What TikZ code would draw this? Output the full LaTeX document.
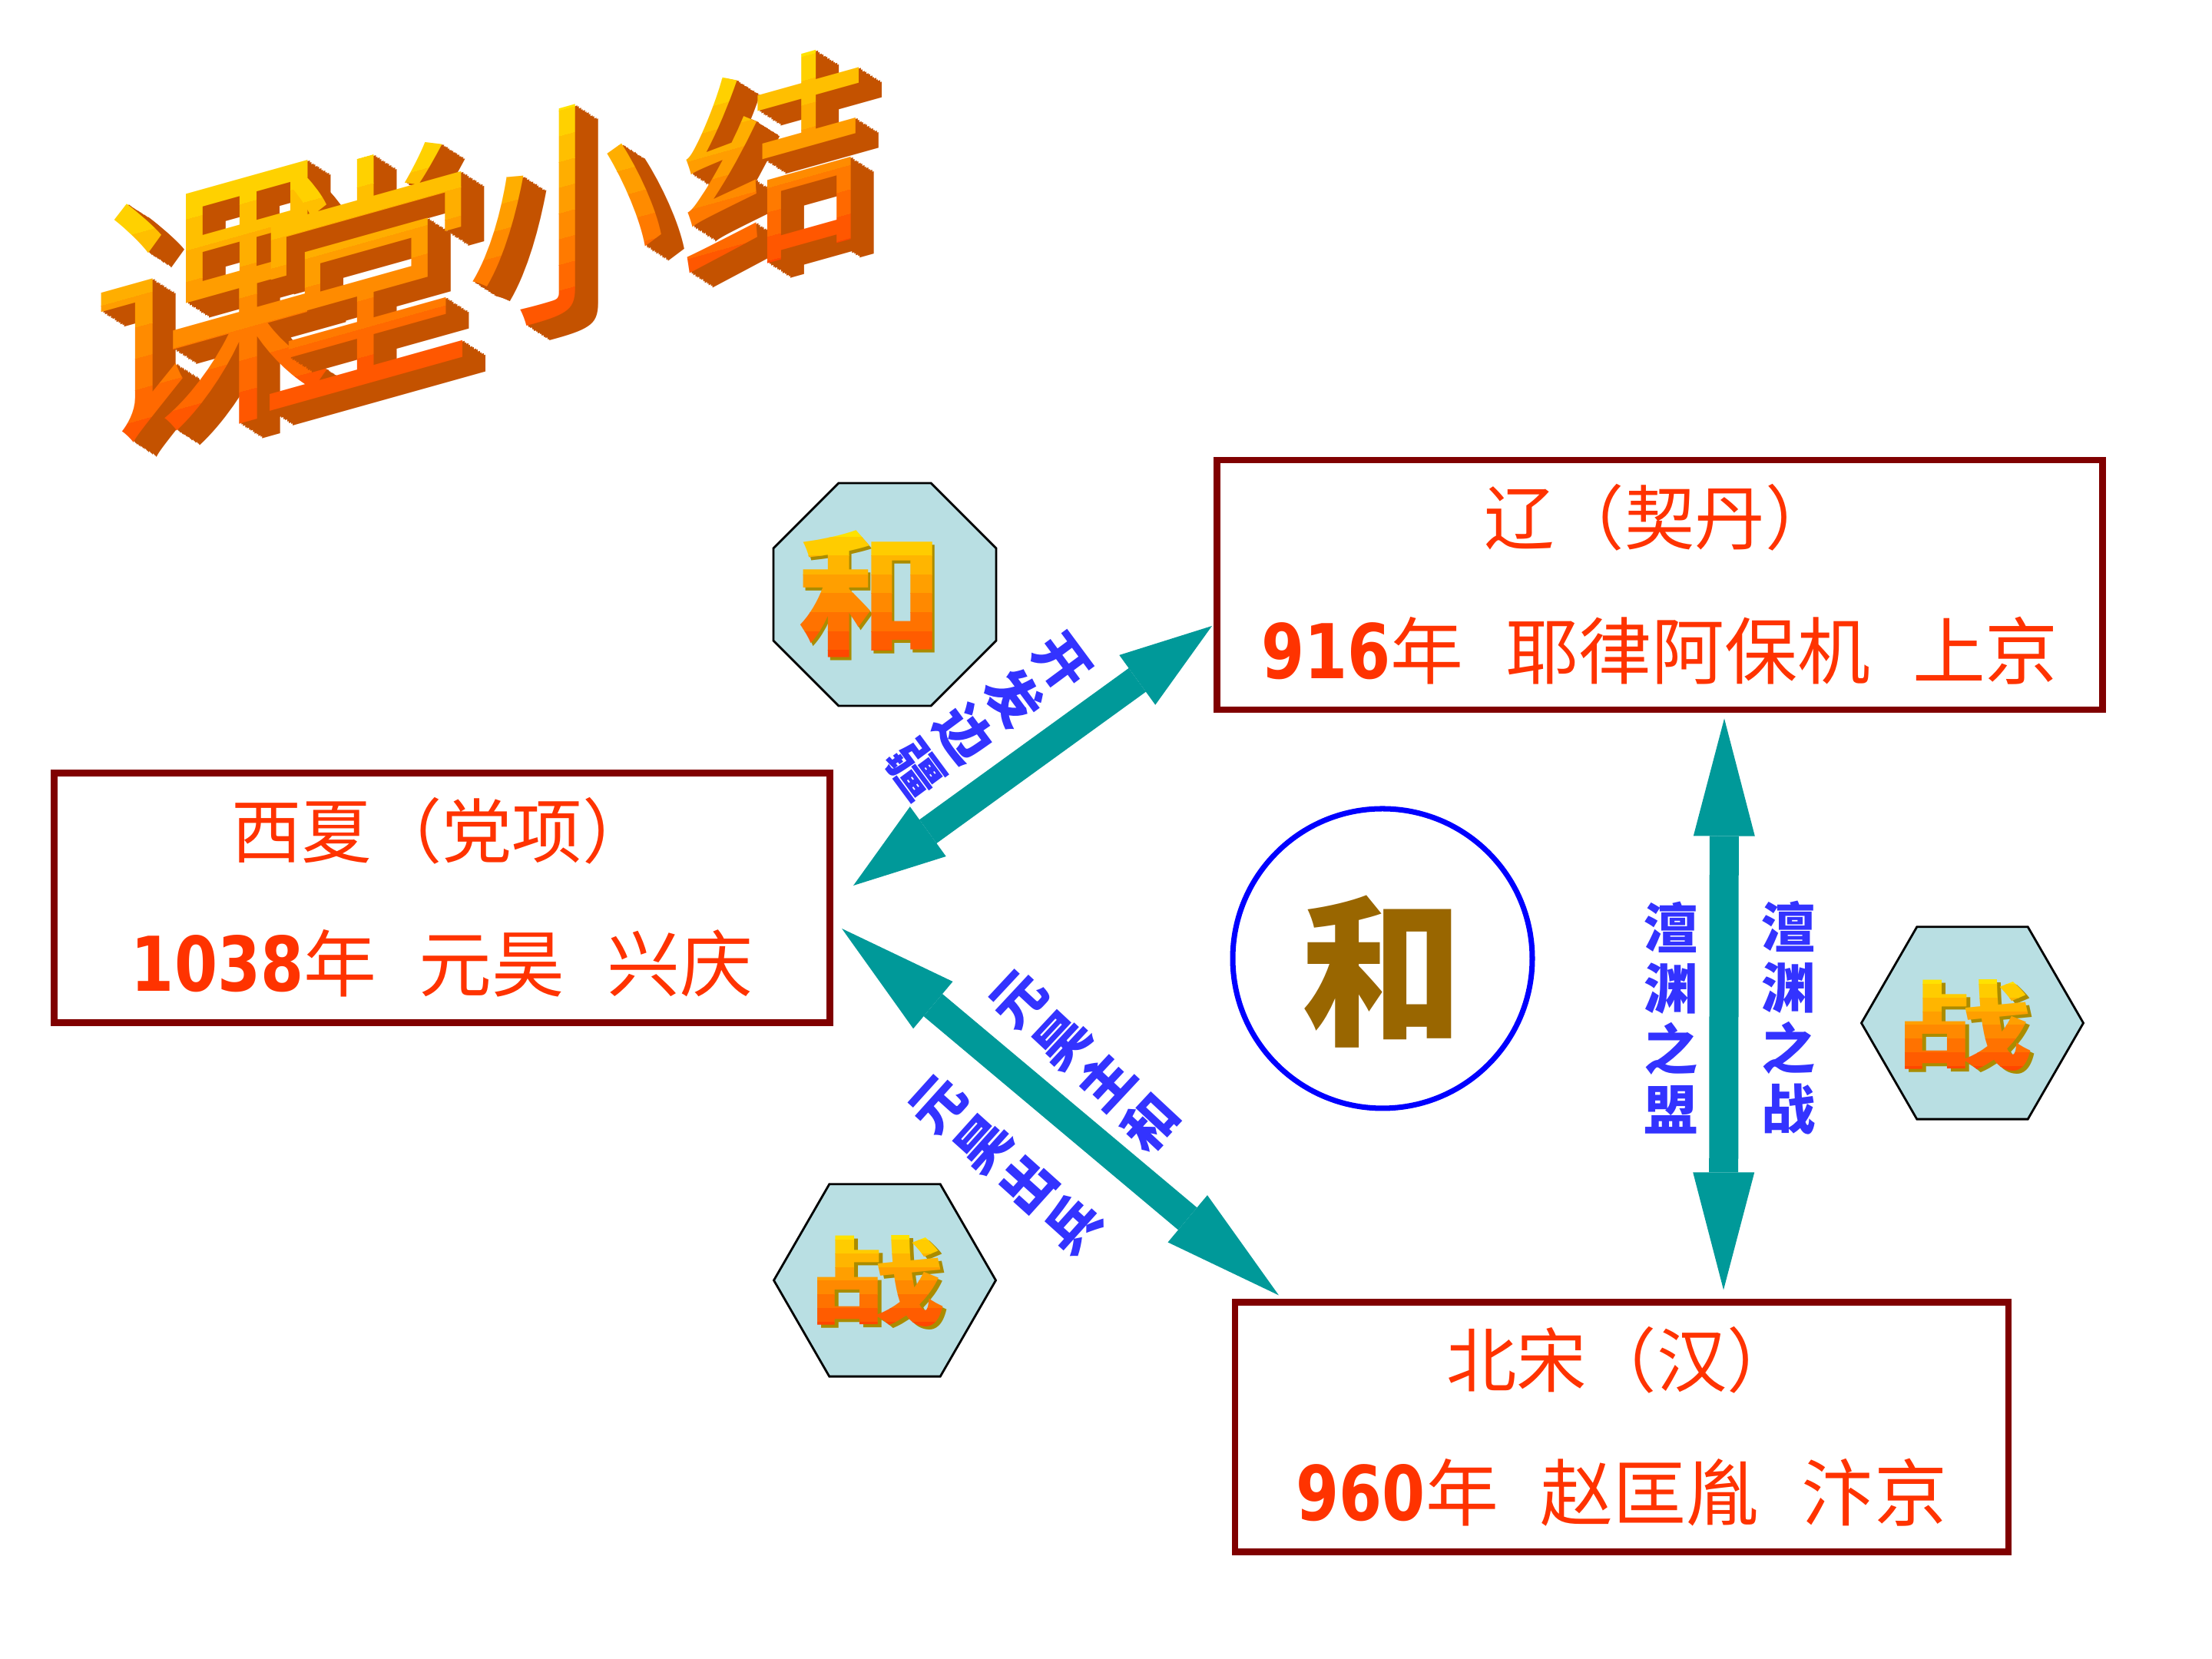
\documentclass[tikz,border=0pt]{standalone}
\usepackage{fontspec}
\newfontfamily\cjk{Noto Sans CJK SC}
\newfontfamily\numfont[FakeStretch=0.82]{DejaVu Sans}
\usetikzlibrary{arrows.meta,shapes.geometric,calc}

\definecolor{boxred}{RGB}{128,0,0}
\definecolor{textred}{RGB}{255,51,0}
\definecolor{linkteal}{RGB}{0,153,153}
\definecolor{labelblue}{RGB}{51,51,255}
\definecolor{badgefill}{RGB}{185,223,227}
\definecolor{hebrown}{RGB}{153,102,0}
\definecolor{gold}{RGB}{255,226,0}
\definecolor{fire}{RGB}{255,70,0}
\definecolor{extrude}{RGB}{196,82,0}
\definecolor{olive}{RGB}{170,140,0}

\tikzset{
  statebox/.style={draw=boxred, line width=2.3pt, minimum height=3.25cm, inner sep=0pt},
  headline/.style={text=textred, font=\cjk\fontsize{26}{26}\selectfont, inner sep=0pt},
  infoline/.style={text=textred, font=\cjk\fontsize{27}{27}\selectfont, inner sep=0pt},
  link/.style={draw=linkteal, line width=0.38cm,
    {Triangle[length=#1,width=0.8cm,line width=0pt]}-{Triangle[length=#1,width=0.8cm,line width=0pt]}},
  link/.default=1.2cm,
  note/.style={text=labelblue, font=\cjk\bfseries\fontsize{20}{22.5}\selectfont, align=center, inner sep=0pt},
  badge/.style={draw=black, line width=0.8pt, fill=badgefill, inner sep=0pt, regular polygon},
}

% stepped yellow-to-red shading of one glyph, centred at the origin
\newcommand{\goldglyph}[5]{%
  \foreach \k in {1,...,#5}{
    \pgfmathsetmacro{\share}{100*(\k-1)/(#5-1)}
    \begin{scope}
      \clip (-3,{(0.56-1.12*(\k-1)/#5)*#2/28.45}) rectangle (3,{(0.56-1.12*\k/#5)*#2/28.45});
      \node[font=\cjk#4\fontsize{#2}{#2}\selectfont, text=fire!\share!gold, inner sep=0pt] (#1\k) at (0,0) {#3};
    \end{scope}}}

% one slanted 3D title character
\newcommand{\wordart}[4]{%
  \begin{scope}[shift={(#2)}, yslant=0.28, yscale=1.15, transform shape]
    \foreach \d in {12,...,1}
      \node[font=\cjk\fontsize{#3}{#3}\selectfont, text=extrude, inner sep=0pt] (#1x\d) at ({0.025*\d},{-0.02*\d}) {#4};
    \goldglyph{#1}{#3}{#4}{}{10}
  \end{scope}}

% one badge character with a thin olive shadow
\newcommand{\badgechar}[5]{%
  \begin{scope}[shift={(#2)}, xscale=#3, transform shape]
    \node[font=\cjk\bfseries\fontsize{#4}{#4}\selectfont, text=olive, inner sep=0pt] (#1s) at (0.035,-0.04) {#5};
    \goldglyph{#1}{#4}{#5}{\bfseries}{8}
  \end{scope}}

\begin{document}
\begin{tikzpicture}[x=1cm,y=1cm]
    \fill[white] (0,0) rectangle (28.8,21.6);
    \useasboundingbox (0,0) rectangle (28.8,21.6);

    % Title
    \wordart{ke}{2.77,17.62}{90}{课}
    \wordart{tang}{4.77,18.08}{82}{堂}
    \wordart{xiao}{7.38,18.85}{74}{小}
    \wordart{jie}{10.10,19.50}{70}{结}

    % Regimes
    \node[statebox, minimum width=11.53cm] (liao) at (21.61,13.985) {};
    \node[headline] (liaoname) at ([yshift=-0.79cm]liao.north) {辽（契丹）};
    \node[infoline] (liaoinfo) at ([yshift=-2.52cm]liao.north) {{\numfont\bfseries\fontsize{28}{28}\selectfont 916}年\hspace{0.55cm}耶律阿保机\hspace{0.55cm}上京};

    \node[statebox, minimum width=10.10cm] (xixia) at (5.755,9.91) {};
    \node[headline] (xixianame) at ([yshift=-0.79cm]xixia.north) {西夏（党项）};
    \node[infoline] (xixiainfo) at ([yshift=-2.52cm]xixia.north) {{\numfont\bfseries\fontsize{28}{28}\selectfont 1038}年\hspace{0.55cm}元昊\hspace{0.55cm}兴庆};

    \node[statebox, minimum width=10.07cm] (song) at (21.115,3.02) {};
    \node[headline] (songname) at ([yshift=-0.79cm]song.north) {北宋（汉）};
    \node[infoline] (songinfo) at ([yshift=-2.52cm]song.north) {{\numfont\bfseries\fontsize{28}{28}\selectfont 960}年\hspace{0.55cm}赵匡胤\hspace{0.55cm}汴京};

    % Relations
    \draw[link] ([shift={(0.265,0.16)}]xixia.east) -- ([shift={(-0.025,-0.535)}]liao.west);
    \draw[link=1.55cm] ([shift={(0.115,-0.40)}]xixia.east) -- ([shift={(0.61,0.05)}]song.north west);
    \draw[link=1.53cm] ([shift={(0.84,-0.075)}]liao.south) -- ([shift={(1.325,0.12)}]song.north);

    \node[note, rotate=-53.5] (frontier) at (12.87,12.28) {开\\发\\边\\疆};
    \node[note, rotate=47] (truce) at (14.13,7.78) {元\\昊\\主\\和};
    \node[note, rotate=48] (raid) at (13.10,6.43) {元\\昊\\出\\兵};
    \node[note] (alliance) at (21.76,8.35) {澶\\渊\\之\\盟};
    \node[note] (battle) at (23.29,8.35) {澶\\渊\\之\\战};

    % Badges
    \node[badge, regular polygon sides=8, minimum size=3.14cm] (octa) at (11.52,13.86) {};
    \node[badge, regular polygon sides=6, minimum size=2.89cm] (hexa) at (11.52,4.93) {};
    \node[badge, regular polygon sides=6, minimum size=2.89cm] (hexb) at (25.68,8.28) {};
    \badgechar{octahe}{11.33,13.87}{1.08}{50}{和}
    \badgechar{hexazhan}{11.41,4.92}{1.4}{36}{战}
    \badgechar{hexbzhan}{25.57,8.25}{1.4}{36}{战}

    % Peace circle
    \node[draw=blue, line width=2pt, circle, minimum size=3.9cm, inner sep=0pt] (peace) at (18.00,9.12) {};
    \node[text=hebrown, font=\cjk\bfseries\fontsize{60}{60}\selectfont, inner sep=0pt] (peacechar) at ([yshift=-0.17cm]peace.center) {和};
\end{tikzpicture}
\end{document}
